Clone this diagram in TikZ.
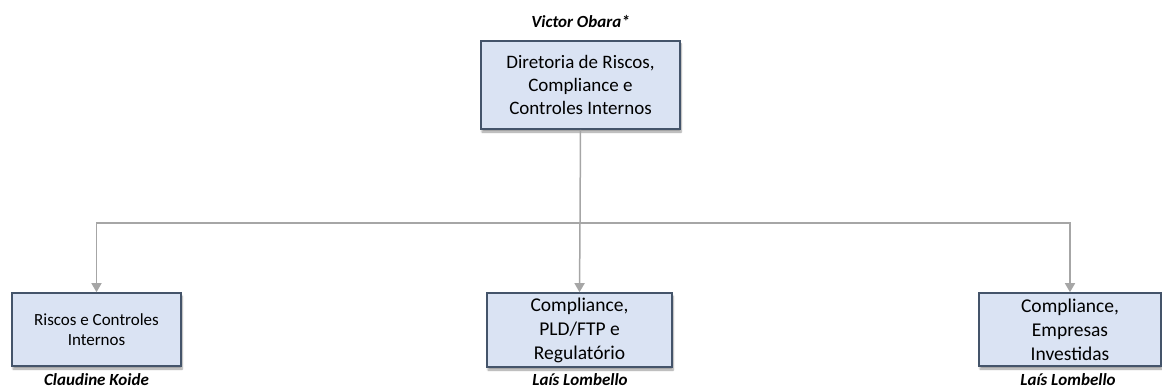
\documentclass[tikz,border=0pt]{standalone}
\usepackage{fontspec}
\setmainfont{Carlito}
\usetikzlibrary{arrows.meta,shadows.blur,positioning}
\definecolor{boxfill}{HTML}{DAE3F3}
\definecolor{boxline}{HTML}{44546A}
\definecolor{connline}{HTML}{A6A6A6}

\begin{document}
\begin{tikzpicture}[x=1pt,y=-1pt,
    unit/.style={draw=boxline,line width=1.6pt,fill=boxfill,align=center,inner sep=0pt,
      blur shadow={shadow xshift=1pt,shadow yshift=-3pt,shadow blur steps=6}},
    head/.style={font=\bfseries\itshape\fontsize{17}{20}\selectfont,inner sep=1pt},
    conn/.style={draw=connline,line width=1.5pt},
    tip/.style={-{Triangle[width=10pt,length=9pt,fill=connline]}}]
        \useasboundingbox (0,0) rectangle (1162,390);

        % director
        \node[unit,minimum width=199pt,minimum height=88pt,font=\fontsize{19}{23}\selectfont]
            (dir) at (580.5,85) {Diretoria de Riscos,\\Compliance e\\Controles Internos};
        \node[head] (vo) at (580.5,21) {Victor Obara*};

        % areas
        \node[unit,minimum width=169pt,minimum height=73pt,font=\fontsize{17}{20.5}\selectfont]
            (ric) at (96.5,329.5) {Riscos e Controles\\Internos};
        \node[unit,minimum width=185pt,minimum height=74pt,font=\fontsize{19.5}{24}\selectfont]
            (pld) at (579.5,330) {Compliance,\\PLD/FTP e\\Regulatório};
        \node[unit,minimum width=182pt,minimum height=73pt,font=\fontsize{19.5}{24}\selectfont]
            (emp) at (1070,329.5) {Compliance,\\Empresas\\Investidas};

        \node[head] (ck) at (96.5,380) {Claudine Koide};
        \node[head] (ll1) at (580,380) {Laís Lombello};
        \node[head] (ll2) at (1068,380) {Laís Lombello};

        % links
        \coordinate (bar) at (580,223);
        \draw[conn] (dir.south) -- (bar);
        \draw[conn,tip] (bar) -| (ric.north);
        \draw[conn,tip] (bar) -- (pld.north);
        \draw[conn,tip] (bar) -| (emp.north);
\end{tikzpicture}
\end{document}
